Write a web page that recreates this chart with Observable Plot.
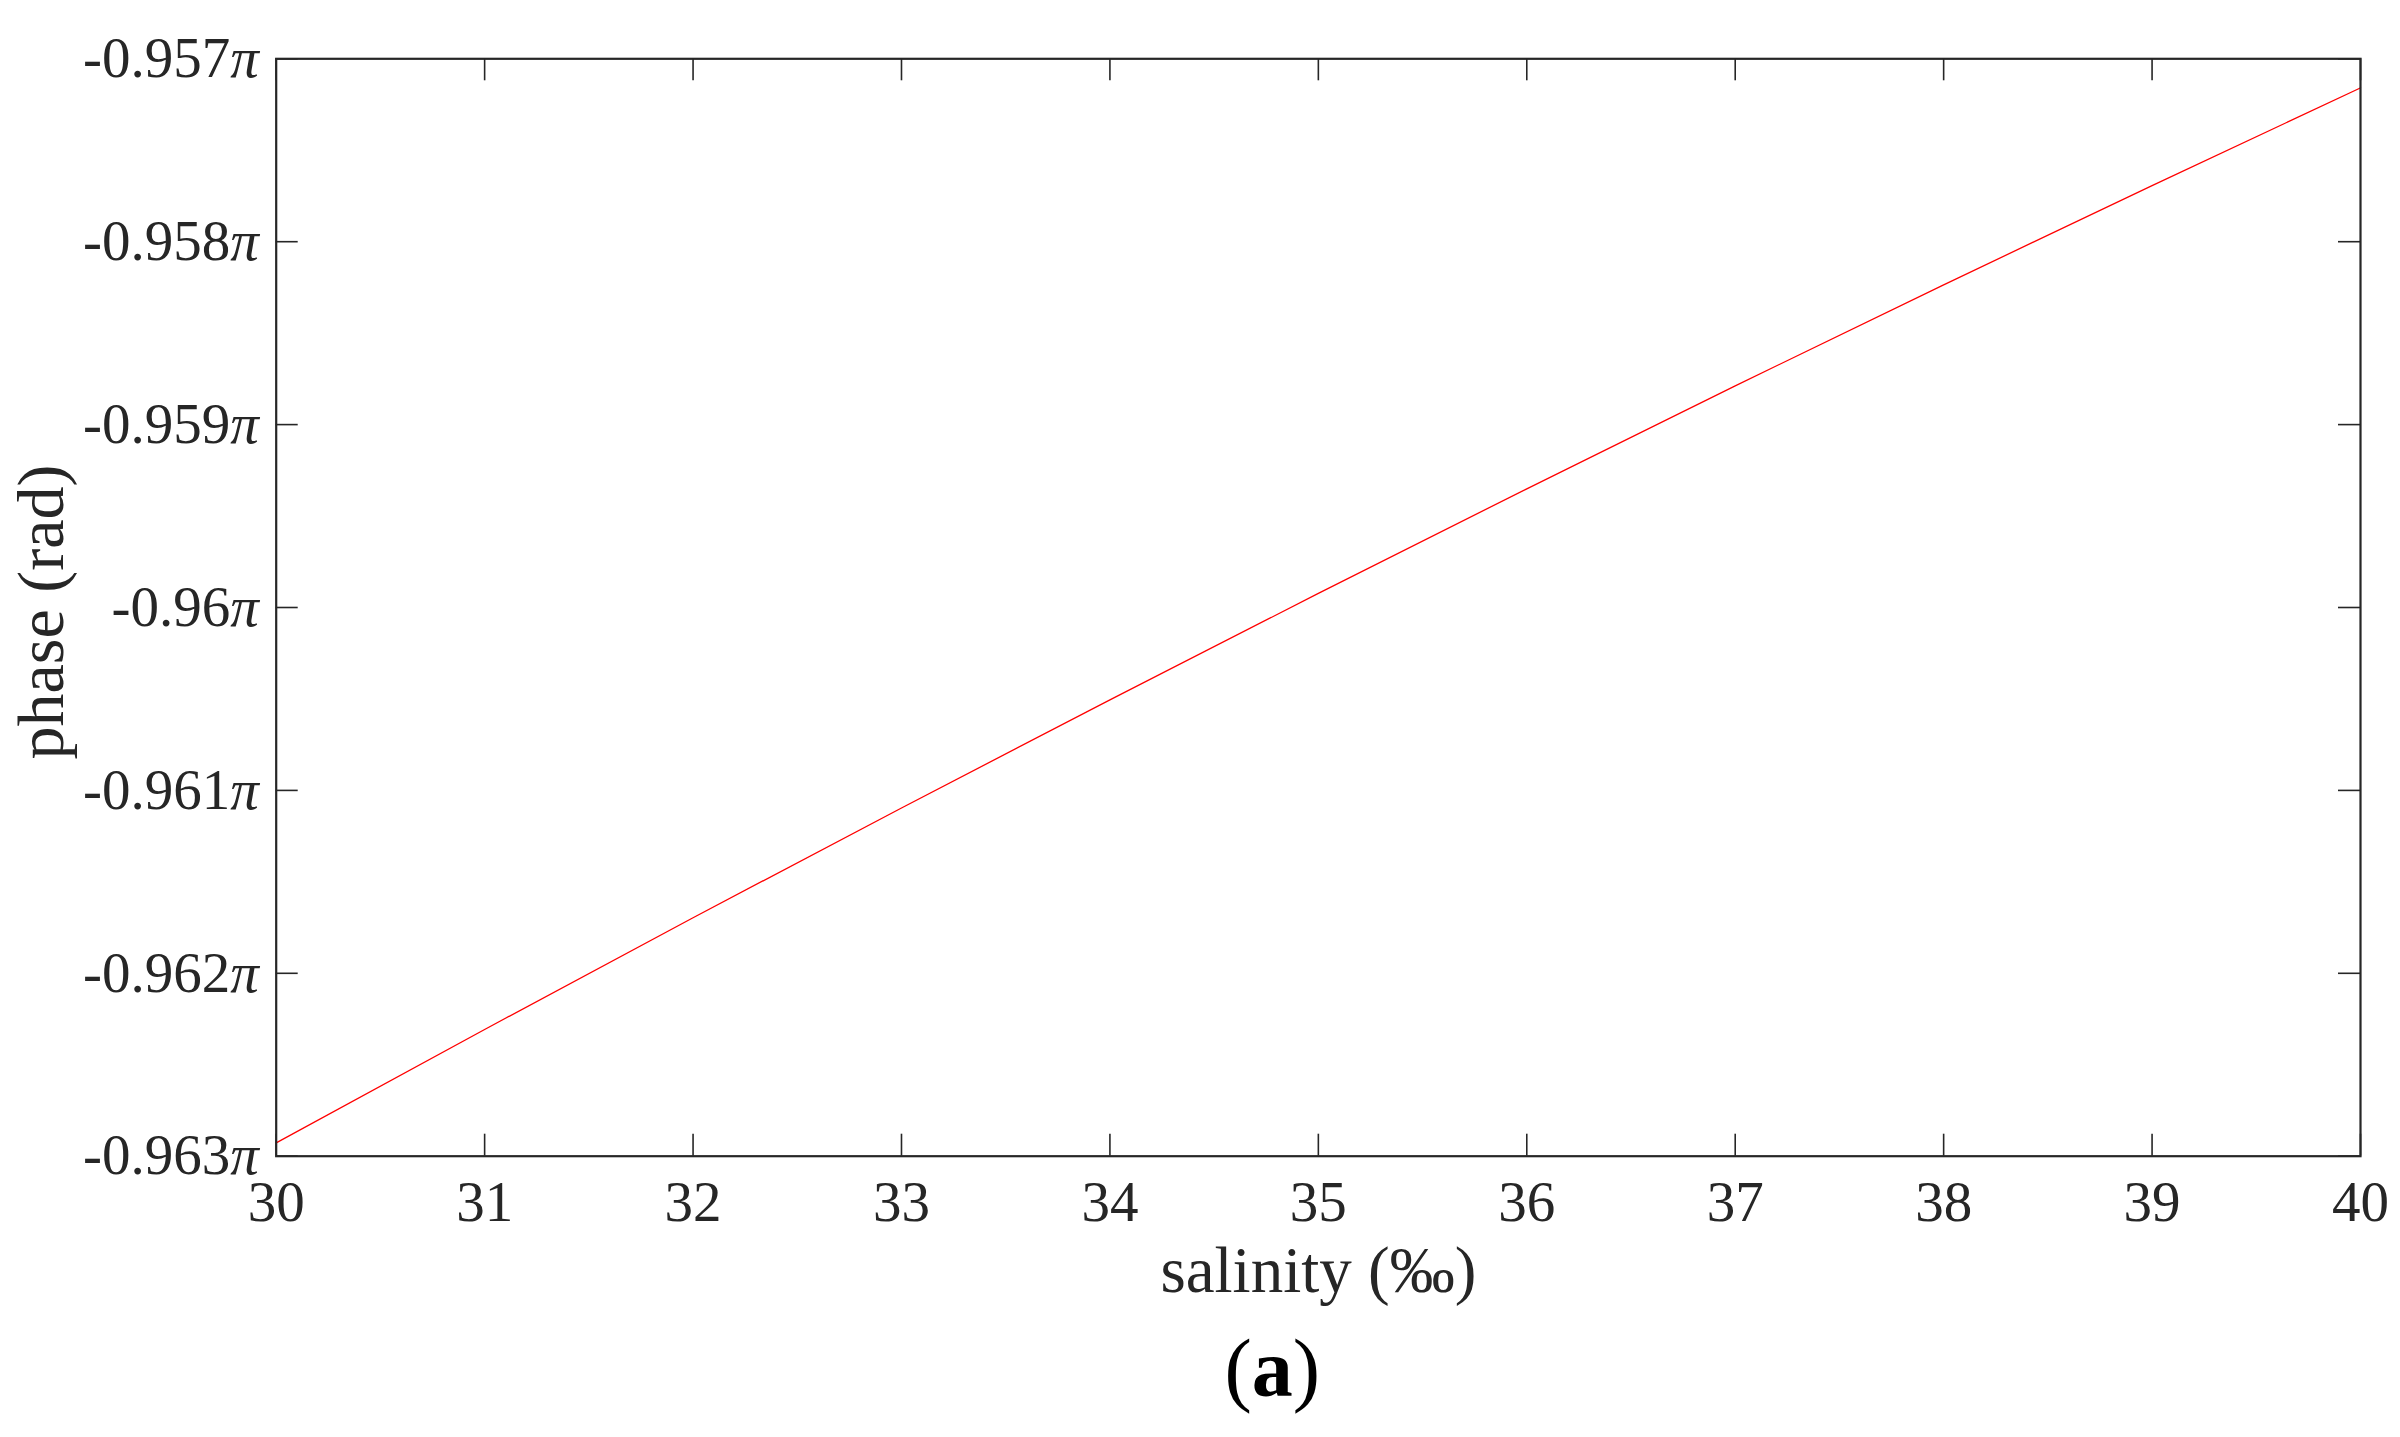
<!DOCTYPE html>
<html>
<head>
<meta charset="utf-8">
<script src="https://cdn.jsdelivr.net/npm/d3@7"></script>
<script src="https://cdn.jsdelivr.net/npm/@observablehq/plot@0.6"></script>
<style>
  html, body { margin: 0; padding: 0; background: #fff; }
  #chart svg { display: block; }
</style>
</head>
<body>
<div id="chart"></div>
<script>
// ---- data ----
const salinity = [30, 31, 32, 33, 34, 35, 36, 37, 38, 39, 40];
const phase = [-0.962927, -0.962307, -0.961696, -0.961096, -0.960505, -0.959923,
               -0.959351, -0.958788, -0.958236, -0.957693, -0.957159];
const xTicks = [30, 31, 32, 33, 34, 35, 36, 37, 38, 39, 40];
const yTicks = [-0.963, -0.962, -0.961, -0.960, -0.959, -0.958, -0.957];
const xLabel = "salinity (‰)";
const yLabel = "phase (rad)";
const panelLabel = "(a)";

const data = salinity.map((s, i) => ({salinity: s, phase: phase[i]}));

// ---- layout ----
const W = 2400, H = 1437;
const mTop = 58.3, mLeft = 275.7, mRight = 40, mBottom = 281.3;
const innerH = H - mTop - mBottom;
const innerW = W - mLeft - mRight;
const tickLen = 22;
const ink = "#262626";

const chart = Plot.plot({
  width: W,
  height: H,
  marginTop: mTop,
  marginLeft: mLeft,
  marginRight: mRight,
  marginBottom: mBottom,
  style: {fontFamily: "'Liberation Serif', 'Times New Roman', serif", fontSize: "57px", color: ink, background: "#fff"},
  x: {domain: [30, 40]},
  y: {domain: [-0.963, -0.957]},
  marks: [
    // inward tick marks on all four sides
    Plot.tickX(xTicks, {x: d => d, insetTop: innerH - tickLen, stroke: ink, strokeWidth: 1.6}),
    Plot.tickX(xTicks, {x: d => d, insetBottom: innerH - tickLen, stroke: ink, strokeWidth: 1.6}),
    Plot.tickY(yTicks, {y: d => d, insetRight: innerW - tickLen, stroke: ink, strokeWidth: 1.6}),
    Plot.tickY(yTicks, {y: d => d, insetLeft: innerW - tickLen, stroke: ink, strokeWidth: 1.6}),
    // tick labels
    Plot.axisX(xTicks, {anchor: "bottom", tickSize: 0, tickPadding: 24.5, label: null, fill: ink, fontSize: 57, tickFormat: d => String(d)}),
    Plot.axisY(yTicks, {anchor: "left", tickSize: 0, tickPadding: 17.5, label: null, fill: ink, fontSize: 57,
      tickFormat: d => `${+d.toFixed(3)}π`}),
    // data line
    Plot.line(data, {x: "salinity", y: "phase", stroke: "#ff0000", strokeWidth: 1.3, curve: "monotone-x"}),
    // frame
    Plot.frame({stroke: ink, strokeWidth: 2.2}),
    // axis titles and panel label
    Plot.text([xLabel], {text: d => d, frameAnchor: "bottom", lineAnchor: "bottom", textAnchor: "middle", dy: 136, fontSize: 65, fill: ink}),
    Plot.text([yLabel], {text: d => d, frameAnchor: "left", lineAnchor: "bottom", textAnchor: "middle", rotate: -90, dx: 62 - mLeft, dy: 4.5, fontSize: 66, fill: ink}),
    Plot.text([panelLabel], {text: d => d, frameAnchor: "bottom", lineAnchor: "bottom", textAnchor: "middle", dx: 1271.7 - (mLeft + innerW / 2), dy: 239.3, fontSize: 82, fill: "#000"})
  ]
});

// italic pi in y tick labels
chart.querySelectorAll('g[aria-label="y-axis tick label"] text').forEach(t => {
  const s = t.textContent;
  if (s.endsWith("π")) {
    const tspans = t.querySelectorAll("tspan");
    const target = tspans.length ? tspans[tspans.length - 1] : t;
    const txt = target.textContent;
    target.textContent = txt.slice(0, -1);
    const pi = document.createElementNS("http://www.w3.org/2000/svg", "tspan");
    pi.setAttribute("font-style", "italic");
    pi.textContent = "π";
    target.appendChild(pi);
  }
});

// bold "a" inside regular parentheses for the panel label
chart.querySelectorAll('g[aria-label="text"] text').forEach(t => {
  if (t.textContent === panelLabel) {
    const tspans = t.querySelectorAll("tspan");
    const target = tspans.length ? tspans[tspans.length - 1] : t;
    target.textContent = "(";
    const a = document.createElementNS("http://www.w3.org/2000/svg", "tspan");
    a.setAttribute("font-weight", "bold");
    a.textContent = "a";
    target.appendChild(a);
    target.appendChild(document.createTextNode(")"));
  }
});

document.getElementById("chart").appendChild(chart);
</script>
</body>
</html>
